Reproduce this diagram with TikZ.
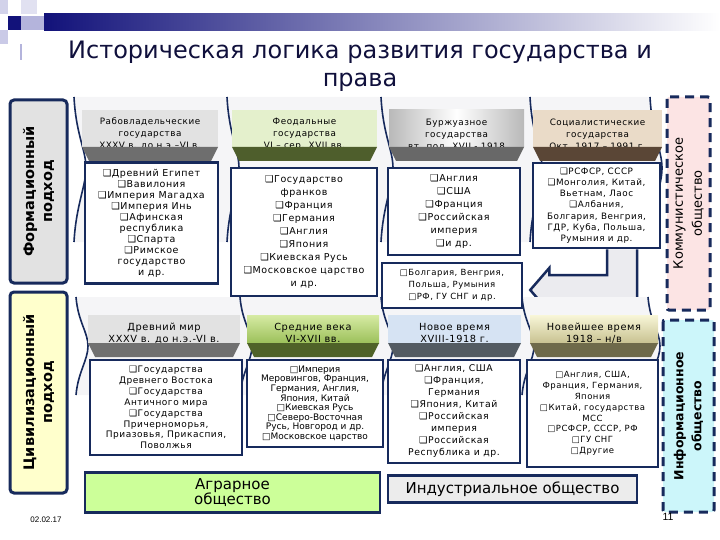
\documentclass[tikz,border=0pt]{standalone}
\usepackage{fontspec}
\setmainfont{DejaVu Sans}
\newfontfamily\listfont{DejaVu Sans}[LetterSpace=6]
\newfontfamily\footfont{Liberation Sans}
\usetikzlibrary{calc,backgrounds}

\definecolor{frame}{HTML}{172A5C}
\definecolor{topnavy}{HTML}{12127A}
\definecolor{lilac}{HTML}{B4B4DC}
\definecolor{titleblue}{HTML}{10103C}
\definecolor{chev}{HTML}{F5F5F7}
\definecolor{arrowgrey}{HTML}{EBEBEF}
\definecolor{granite}{HTML}{E2E2E2}
\definecolor{lemon}{HTML}{FFFFCC}
\definecolor{pinkish}{HTML}{FCE4E4}
\definecolor{cyanish}{HTML}{CCF6FA}
\definecolor{agrar}{HTML}{CCFF99}
\definecolor{indus}{HTML}{ECECEC}
\definecolor{slaveband}{HTML}{6E6E6E}
\definecolor{feudband}{HTML}{4E5E2C}
\definecolor{bourgband}{HTML}{686868}
\definecolor{socband}{HTML}{5A4636}
\definecolor{ancband}{HTML}{707070}
\definecolor{midband}{HTML}{4F6228}
\definecolor{newband}{HTML}{535B62}
\definecolor{recband}{HTML}{6E6A4A}

\begin{document}
\begin{tikzpicture}[x=1pt,y=-1pt,
    listbox/.style={draw=frame,line width=2.5pt,fill=white,align=center,inner sep=1pt},
    hdrtext/.style={align=center,inner sep=0pt,font=\listfont\fontsize{8.8}{12}\selectfont},
    sidebox/.style={draw=frame,line width=3pt,rounded corners=4pt,rotate=90,align=center,inner sep=0pt,font=\bfseries\fontsize{14.5}{18}\selectfont},
    dashbox/.style={draw=frame,line width=3pt,dash pattern=on 9pt off 6pt,rounded corners=2pt,rotate=90,align=center,inner sep=0pt},
    socbox/.style={draw=frame,line width=2.5pt,align=center,inner sep=0pt},
    chevline/.style={draw=frame,line width=1.6pt},
    slavebg/.style={fill=granite},
    feudbg/.style={fill={rgb,255:red,228;green,240;blue,204}},
    bourgbg/.style={left color=gray!55,right color=gray!55,middle color=white},
    socbg/.style={fill={rgb,255:red,234;green,219;blue,200}},
    ancbg/.style={fill=granite},
    midbg/.style={top color={rgb,255:red,214;green,235;blue,164},bottom color={rgb,255:red,156;green,192;blue,90}},
    newbg/.style={fill={rgb,255:red,214;green,227;blue,243}},
    recbg/.style={top color={rgb,255:red,248;green,246;blue,216},bottom color={rgb,255:red,200;green,194;blue,145}}
]
    \useasboundingbox (0,0) rectangle (720,540);

    % top decoration
    \shade[left color=topnavy,right color=white] (44,14) rectangle (720,31);
    \fill[topnavy] (8,16) rectangle (21,30);
    \fill[lilac] (21,16) rectangle (44,30);
    \fill[lilac!60] (0,0) rectangle (8,14);
    \fill[lilac!40] (21,0) rectangle (37,14);
    \fill[lilac!70] (0,30) rectangle (8,44);
    \fill[lilac] (20,44) rectangle (22,60);

    \node[align=center,text=titleblue,font=\fontsize{24}{28}\selectfont] (title) at (360,66)
        {Историческая логика развития государства и\\права};

    % chevrons behind the two rows
    \foreach \l/\r in {74/227,227/381,381/530,530/650}
        \fill[chev] (\l,97) -- (\r,97) .. controls (\r+2,135) and (\r+12,150) .. (\r+12,168)
            .. controls (\r+12,186) and (\r+2,205) .. (\r,242) -- (\l,242)
            .. controls (\l+2,205) and (\l+12,186) .. (\l+12,168)
            .. controls (\l+12,150) and (\l+2,135) .. (\l,97) -- cycle;
    \foreach \l in {74,227,381,530,650}
        \draw[chevline] (\l,97) .. controls (\l+2,135) and (\l+12,150) .. (\l+12,168)
            .. controls (\l+12,186) and (\l+2,205) .. (\l,242);
    \foreach \l/\r in {76/240,240/381,381/522,522/648}
        \fill[chev] (\l,297) -- (\r,297) .. controls (\r+2,322) and (\r+12,332) .. (\r+12,346)
            .. controls (\r+12,360) and (\r+2,372) .. (\r,395) -- (\l,395)
            .. controls (\l+2,372) and (\l+12,360) .. (\l+12,346)
            .. controls (\l+12,332) and (\l+2,322) .. (\l,297) -- cycle;
    \foreach \l in {76,240,381,522,648}
        \draw[chevline] (\l,297) .. controls (\l+2,322) and (\l+12,332) .. (\l+12,346)
            .. controls (\l+12,360) and (\l+2,372) .. (\l,395);

    % header faces
    \foreach \l/\r/\s in {82/218/slavebg,232/377/feudbg,389/524/bourgbg,533/662/socbg}
        \path[\s] (\l,110) rectangle (\r,147);
    \foreach \l/\r/\s in {88/240/ancbg,247/379/midbg,388/521/newbg,530/658/recbg}
        \path[\s] (\l,315) rectangle (\r,343);

    \node[hdrtext] (hslave) at (150,134) {Рабовладельческие\\государства\\XXXV в. до н.э.–VI в.};
    \node[hdrtext] (hfeud) at (304.5,134) {Феодальные\\государства\\VI – сер. XVII вв.};
    \node[hdrtext] (hbourg) at (456.5,134) {Буржуазное\\государства\\вт. пол. XVII - 1918};
    \node[hdrtext] (hsoc) at (597.5,134) {Социалистические\\государства\\Окт. 1917 – 1991 г.};

    \node[hdrtext,font=\listfont\fontsize{9.8}{12}\selectfont] (hanc) at (164,333) {Древний мир\\XXXV в. до н.э.-VI в.};
    \node[hdrtext,font=\listfont\fontsize{9.8}{12}\selectfont] (hmid) at (313,333) {Средние века\\VI-XVII вв.};
    \node[hdrtext,font=\listfont\fontsize{9.8}{12}\selectfont] (hnew) at (454.5,333) {Новое время\\XVIII-1918 г.};
    \node[hdrtext,font=\listfont\fontsize{9.8}{12}\selectfont] (hrec) at (594,333) {Новейшее время\\1918 – н/в};

    % header bands
    \foreach \l/\r/\c in {82/218/slaveband,232/377/feudband,389/524/bourgband,533/662/socband}
        \fill[\c] (\l,147) -- (\r,147) -- (\r-7,161) -- (\l+7,161) -- cycle;
    \foreach \l/\r/\c in {88/240/ancband,247/379/midband,388/521/newband,530/658/recband}
        \fill[\c] (\l,343) -- (\r,343) -- (\r-7,357) -- (\l+7,357) -- cycle;

    % side labels
    \node[sidebox,fill=granite,minimum width=183,minimum height=57] (form) at (38.5,191.5) {Формационный\\подход};
    \node[sidebox,fill=lemon,minimum width=201,minimum height=57] (civil) at (38.5,392.5) {Цивилизационный\\подход};

    \node[dashbox,fill=pinkish,minimum width=213,minimum height=43,font=\fontsize{13}{19}\selectfont] (commun) at (688.5,203.5) {Коммунистическое\\общество};
    \node[dashbox,fill=cyanish,minimum width=192,minimum height=51,font=\bfseries\fontsize{12.5}{18}\selectfont] (inform) at (688.5,416) {Информационное\\общество};

    % formation lists
    \node[listbox,minimum width=133,minimum height=121,font=\listfont\fontsize{9.5}{11}\selectfont] (lslave) at (151.5,223)
        {❑Древний Египет\\❑Вавилония\\❑Империя Магадха\\❑Империя Инь\\❑Афинская\\республика\\❑Спарта\\❑Римское\\государство\\и др.};
    \node[listbox,minimum width=146,minimum height=128,font=\listfont\fontsize{9.5}{13}\selectfont] (lfeud) at (304,232)
        {❑Государство\\франков\\❑Франция\\❑Германия\\❑Англия\\❑Япония\\❑Киевская Русь\\❑Московское царство\\и др.};
    \node[listbox,minimum width=132,minimum height=87,font=\listfont\fontsize{9.5}{13}\selectfont] (lbourg) at (454,211.5)
        {❑Англия\\❑США\\❑Франция\\❑Российская\\империя\\❑и др.};
    \node[listbox,minimum width=127,minimum height=85,font=\listfont\fontsize{8.8}{11.2}\selectfont] (lsoc) at (596.5,205.5)
        {❑РСФСР, СССР\\❑Монголия, Китай,\\Вьетнам, Лаос\\❑Албания,\\Болгария, Венгрия,\\ГДР, Куба, Польша,\\Румыния и др.};
    \node[listbox,minimum width=140,minimum height=45,font=\listfont\fontsize{8.5}{12}\selectfont] (lextra) at (452,285.5)
        {□Болгария, Венгрия,\\Польша, Румыния\\□РФ, ГУ СНГ и др.};

    % bent arrow from the socialist list
    \path (lsoc.south) ++(10.5,0) coordinate (shaftL) ++(30,0) coordinate (shaftR);
    \coordinate (tip) at ($(lextra.east)+(7,4.5)$);
    \begin{scope}[on background layer]
        \filldraw[fill=arrowgrey,draw=frame,line width=2.5pt] (shaftR) |- ($(tip)+(19,15)$) -- ++(0,7) -- (tip)
            -- ++(19,-22) -- ++(0,7) -| (shaftL);
    \end{scope}

    % civilization lists
    \node[listbox,minimum width=152,minimum height=95,font=\listfont\fontsize{9}{10.9}\selectfont] (lanc) at (166,407.5)
        {❑Государства\\Древнего Востока\\❑Государства\\Античного мира\\❑Государства\\Причерноморья,\\Приазовья, Прикаспия,\\Поволжья};
    \node[listbox,minimum width=136,minimum height=87,font=\fontsize{9}{9.6}\selectfont] (lmid) at (315,403.5)
        {□Империя\\Меровингов, Франция,\\Германия, Англия,\\Япония, Китай\\□Киевская Русь\\□Северо-Восточная\\Русь, Новгород и др.\\□Московское царство};
    \node[listbox,minimum width=132,minimum height=103,font=\listfont\fontsize{9.3}{12}\selectfont] (lnew) at (454,411.5)
        {❑Англия, США\\❑Франция,\\Германия\\❑Япония, Китай\\❑Российская\\империя\\❑Российская\\Республика и др.};
    \node[listbox,minimum width=131,minimum height=107,font=\listfont\fontsize{8.5}{10.8}\selectfont] (lrec) at (592.5,413.5)
        {□Англия, США,\\Франция, Германия,\\Япония\\□Китай, государства\\МСС\\□РСФСР, СССР, РФ\\□ГУ СНГ\\□Другие};

    % societies
    \node[socbox,fill=agrar,minimum width=295,minimum height=40,font=\fontsize{15}{15}\selectfont] (agrar) at (232.5,492.5) {Аграрное\\общество};
    \node[socbox,fill=indus,minimum width=249,minimum height=27,font=\fontsize{15}{16}\selectfont] (indus) at (512.5,489) {Индустриальное общество};

    \node[font=\footfont\fontsize{8}{9}\selectfont] (date) at (46,520) {02.02.17};
    \node[font=\footfont\fontsize{10.5}{12}\selectfont] (page) at (668,517) {11};
\end{tikzpicture}
\end{document}
